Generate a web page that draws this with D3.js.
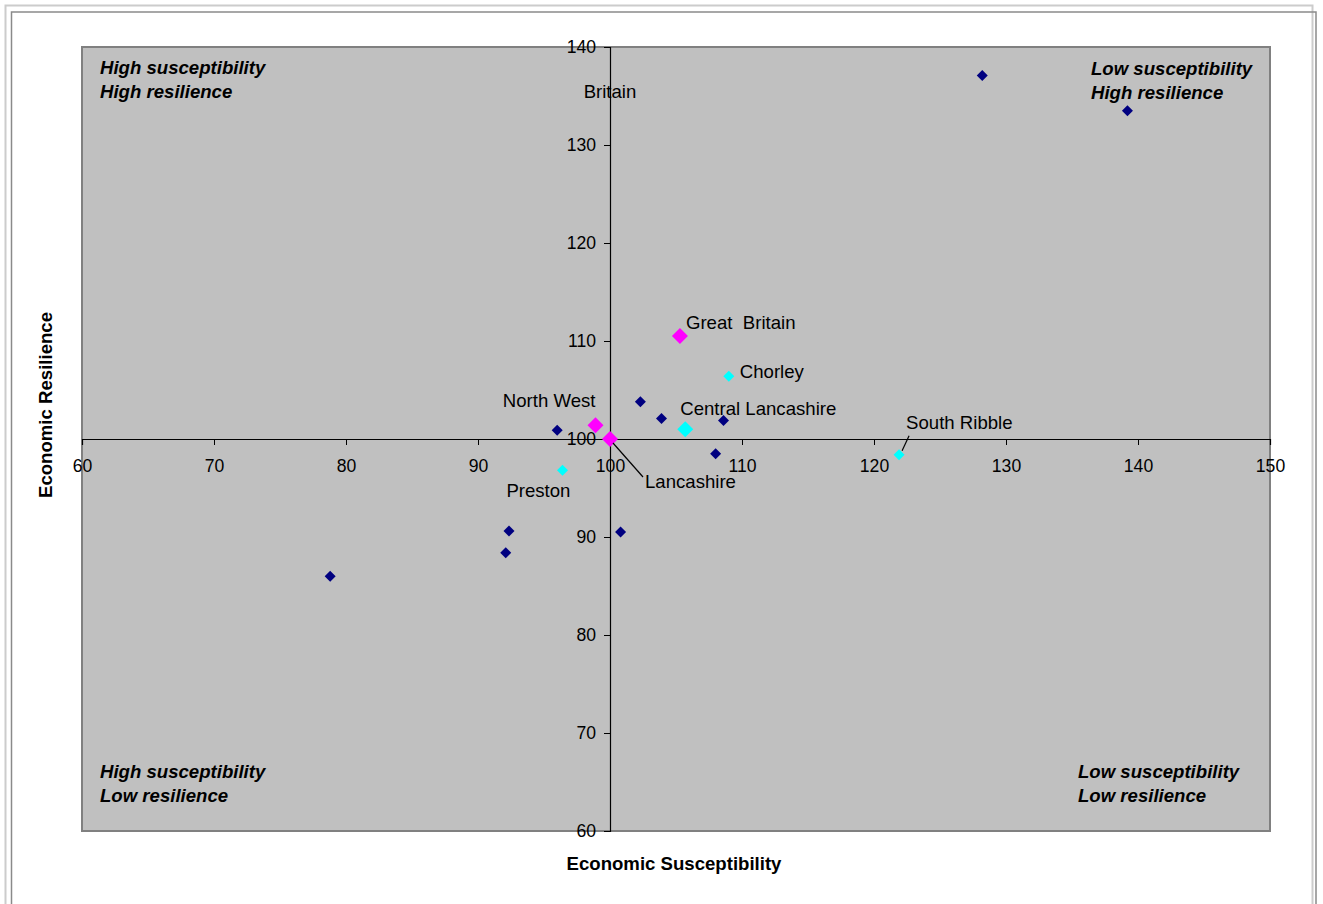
<!DOCTYPE html>
<html>
<head>
<meta charset="utf-8">
<script src="https://cdn.jsdelivr.net/npm/d3@7/dist/d3.min.js"></script>
<style>
  html, body { margin: 0; padding: 0; background: #ffffff; }
  svg { display: block; }
  text { font-family: "Liberation Sans", Arial, sans-serif; fill: #000; white-space: pre; }
</style>
</head>
<body>
<svg id="chart" width="1323" height="904"></svg>
<script>
// ---------------- data ----------------
const xTicks = [60, 70, 80, 90, 100, 110, 120, 130, 140, 150];
const yTicks = [60, 70, 80, 90, 100, 110, 120, 130, 140];

// Other districts (small navy diamonds)
const districtX = [128.2, 139.2, 102.3, 103.9, 108.6, 96.0, 108.0, 92.35, 92.1, 100.8, 78.8];
const districtY = [137.1, 133.5, 103.8, 102.1, 101.9, 100.9, 98.5, 90.6, 88.4, 90.5, 86.0];

// Central Lancashire districts (small cyan diamonds)
const clNames = ["Chorley", "Preston", "South Ribble"];
const clX = [109.0, 96.4, 121.9];
const clY = [106.4, 96.8, 98.4];

// Central Lancashire aggregate (large cyan diamond)
const clAggName = ["Central Lancashire"];
const clAggX = [105.7];
const clAggY = [101.0];

// Benchmarks (large magenta diamonds)
const benchNames = ["Great  Britain", "North West", "Lancashire"];
const benchX = [105.3, 98.9, 100.0];
const benchY = [110.5, 101.4, 100.0];

const quadrantText = [
  ["High susceptibility", "High resilience"],
  ["Low susceptibility", "High resilience"],
  ["High susceptibility", "Low resilience"],
  ["Low susceptibility", "Low resilience"]
];

// ---------------- layout ----------------
const svg = d3.select("#chart");
const plot = { left: 82, top: 47, right: 1270, bottom: 831 };
const x = d3.scaleLinear().domain([60, 150]).range([plot.left, plot.right]);
const y = d3.scaleLinear().domain([60, 140]).range([plot.bottom, plot.top]);
const FS = 18.6;
const TFS = 17.6;

// outer frame
svg.append("rect").attr("x", 5.5).attr("y", 5.5).attr("width", 1307).attr("height", 930)
  .attr("fill", "none").attr("stroke", "#cccccc").attr("stroke-width", 2);
svg.append("rect").attr("x", 11.5).attr("y", 12).attr("width", 1304.5).attr("height", 930)
  .attr("fill", "none").attr("stroke", "#8a8a8a").attr("stroke-width", 1.5);

// plot area
svg.append("rect").attr("x", plot.left).attr("y", plot.top)
  .attr("width", plot.right - plot.left).attr("height", plot.bottom - plot.top)
  .attr("fill", "#c0c0c0").attr("stroke", "#808080").attr("stroke-width", 2);

// x axis (crossing at y=100), ticks pointing down
const xAxis = d3.axisBottom(x).tickValues(xTicks).tickSize(6).tickPadding(15).tickFormat(d3.format("d"));
const gx = svg.append("g").attr("transform", `translate(0,${y(100)})`).call(xAxis);
gx.select(".domain").attr("stroke", "#000").attr("stroke-width", 1.2);
gx.selectAll(".tick line").attr("stroke", "#000");
gx.selectAll(".tick text").attr("font-size", TFS).attr("font-family", "Liberation Sans, Arial, sans-serif").attr("fill", "#000");

// y axis (crossing at x=100), ticks pointing left
const yAxis = d3.axisLeft(y).tickValues(yTicks).tickSize(6).tickPadding(8).tickFormat(d3.format("d"));
const gy = svg.append("g").attr("transform", `translate(${x(100)},0)`).call(yAxis);
gy.select(".domain").attr("stroke", "#000").attr("stroke-width", 1.2);
gy.selectAll(".tick line").attr("stroke", "#000");
gy.selectAll(".tick text").attr("font-size", TFS).attr("font-family", "Liberation Sans, Arial, sans-serif").attr("fill", "#000");

// axis titles
svg.append("text").attr("x", 674).attr("y", 870).attr("text-anchor", "middle")
  .attr("font-size", FS).attr("font-weight", "bold").text("Economic Susceptibility");
svg.append("text").attr("transform", `translate(52,${405}) rotate(-90)`).attr("text-anchor", "middle")
  .attr("font-size", FS).attr("font-weight", "bold").text("Economic Resilience");

// quadrant labels
const qPos = [
  { x: 100, y: 74 },
  { x: 1091, y: 75 },
  { x: 100, y: 778 },
  { x: 1078, y: 778 }
];
quadrantText.forEach((lines, i) => {
  lines.forEach((t, j) => {
    svg.append("text").attr("x", qPos[i].x).attr("y", qPos[i].y + j * 24)
      .attr("text-anchor", "start")
      .attr("font-size", FS).attr("font-weight", "bold").attr("font-style", "italic").text(t);
  });
});

// diamond helper
function diamond(r) { return `M0,${-r}L${r},0L0,${r}L${-r},0Z`; }

function drawSeries(xs, ys, color, r) {
  svg.append("g").selectAll("path").data(xs.map((v, i) => [v, ys[i]])).join("path")
    .attr("d", diamond(r))
    .attr("transform", d => `translate(${x(d[0])},${y(d[1])})`)
    .attr("fill", color);
}
drawSeries(districtX, districtY, "#000080", 5.5);
drawSeries(clX, clY, "#00ffff", 5.5);
drawSeries(clAggX, clAggY, "#00ffff", 8);
drawSeries(benchX, benchY, "#ff00ff", 8);

// data labels (offsets in px from the point), leader lines where the label was moved
function label(px, py, name, dx, dy, anchor, leader) {
  const lx = x(px) + dx, ly = y(py) + dy;
  if (leader) {
    svg.append("line").attr("x1", x(px) + leader[0]).attr("y1", y(py) + leader[1])
      .attr("x2", x(px) + leader[2]).attr("y2", y(py) + leader[3])
      .attr("stroke", "#000").attr("stroke-width", 1.2);
  }
  svg.append("text").attr("x", lx).attr("y", ly).attr("text-anchor", anchor)
    .attr("font-size", FS).text(name);
}
label(benchX[0], benchY[0], benchNames[0], 6, -7, "start");
label(benchX[1], benchY[1], benchNames[1], 0, -18, "end");
label(benchX[2], benchY[2], benchNames[2], 35, 49, "start", [3, 4, 33, 38]);
label(clX[0], clY[0], clNames[0], 11, 2, "start");
label(clX[1], clY[1], clNames[1], 8, 27, "end");
label(clX[2], clY[2], clNames[2], 7, -26, "start", [3, -4, 10, -19]);
label(clAggX[0], clAggY[0], clAggName[0], -5, -14, "start");

// orphan label left in the source chart
svg.append("text").attr("x", x(100)).attr("y", 98).attr("text-anchor", "middle")
  .attr("font-size", FS).text("Britain");
</script>
</body>
</html>
